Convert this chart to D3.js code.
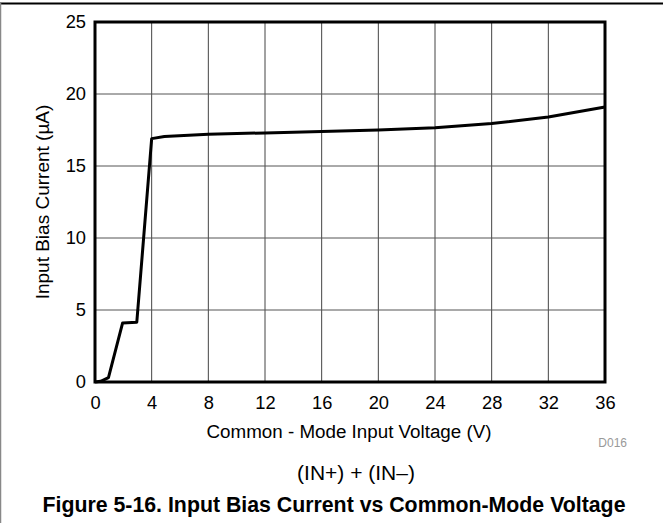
<!DOCTYPE html>
<html>
<head>
<meta charset="utf-8">
<script src="https://cdn.jsdelivr.net/npm/d3@7"></script>
<style>
  body { margin: 0; background: #fff; }
  svg text { font-family: "Liberation Sans", Arial, sans-serif; }
</style>
</head>
<body>
<svg id="chart" width="663" height="523"></svg>
<script>
// Curve
const voltage = [0, 0.4, 0.95, 1.95, 2.95, 4.0, 4.9, 8, 12, 16, 20, 24, 28, 32, 36];
const biasCurrent = [0, 0.05, 0.3, 4.1, 4.15, 16.9, 17.05, 17.2, 17.3, 17.4, 17.5, 17.65, 17.95, 18.4, 19.1];
const xTicks = [0, 4, 8, 12, 16, 20, 24, 28, 32, 36];
const yTicks = [0, 5, 10, 15, 20, 25];

const svg = d3.select("#chart");

const margin = { left: 95, right: 58, top: 22, bottom: 141 };
const W = 663, H = 523;

const x = d3.scaleLinear().domain([0, 36]).range([margin.left, W - margin.right]);
const y = d3.scaleLinear().domain([0, 25]).range([H - margin.bottom, margin.top]);

// outer figure frame (top + left only)
svg.append("line").attr("x1", 0).attr("x2", W).attr("y1", 3.5).attr("y2", 3.5)
  .attr("stroke", "#000").attr("stroke-width", 2);
svg.append("line").attr("x1", 0.5).attr("x2", 0.5).attr("y1", 3).attr("y2", H)
  .attr("stroke", "#888").attr("stroke-width", 1.5);

// grid
svg.append("g").selectAll("line").data(xTicks.slice(1, -1)).enter().append("line")
  .attr("x1", d => x(d)).attr("x2", d => x(d))
  .attr("y1", y(25)).attr("y2", y(0))
  .attr("stroke", "#444").attr("stroke-width", 1);
svg.append("g").selectAll("line").data(yTicks.slice(1, -1)).enter().append("line")
  .attr("x1", x(0)).attr("x2", x(36))
  .attr("y1", d => y(d)).attr("y2", d => y(d))
  .attr("stroke", "#555").attr("stroke-width", 1);

// axes (labels only)
const xAxis = svg.append("g")
  .attr("transform", "translate(0," + y(0) + ")")
  .call(d3.axisBottom(x).tickValues(xTicks).tickSize(0).tickPadding(14));
const yAxis = svg.append("g")
  .attr("transform", "translate(" + x(0) + ",0)")
  .call(d3.axisLeft(y).tickValues(yTicks).tickSize(0).tickPadding(9));
[xAxis, yAxis].forEach(a => {
  a.select(".domain").remove();
  a.selectAll("text").style("font-size", "18.3px").attr("fill", "#000")
    .style("font-family", "'Liberation Sans', Arial, sans-serif");
});

// curve
const line = d3.line().x((d, i) => x(voltage[i])).y(d => y(d));
svg.append("path").datum(biasCurrent)
  .attr("d", line)
  .attr("fill", "none").attr("stroke", "#000").attr("stroke-width", 3)
  .attr("stroke-linejoin", "round");

// plot frame
svg.append("rect")
  .attr("x", x(0)).attr("y", y(25))
  .attr("width", x(36) - x(0)).attr("height", y(0) - y(25))
  .attr("fill", "none").attr("stroke", "#000").attr("stroke-width", 3);

// titles
svg.append("text").attr("x", 349).attr("y", 438)
  .attr("text-anchor", "middle").style("font-size", "18.8px")
  .text("Common - Mode Input Voltage (V)");

svg.append("text")
  .attr("transform", "translate(49," + ((y(0) + y(25)) / 2) + ") rotate(-90)")
  .attr("text-anchor", "middle").style("font-size", "19px")
  .text("Input Bias Current (\u00B5A)");

svg.append("text").attr("x", 627).attr("y", 447)
  .attr("text-anchor", "end").attr("fill", "#999").style("font-size", "12px")
  .text("D016");

svg.append("text").attr("x", 356).attr("y", 480)
  .attr("text-anchor", "middle").style("font-size", "21px")
  .text("(IN+) + (IN\u2013)");

svg.append("text").attr("x", 334).attr("y", 512)
  .attr("text-anchor", "middle").style("font-size", "21.3px").style("font-weight", "bold")
  .text("Figure 5-16. Input Bias Current vs Common-Mode Voltage");
</script>
</body>
</html>
